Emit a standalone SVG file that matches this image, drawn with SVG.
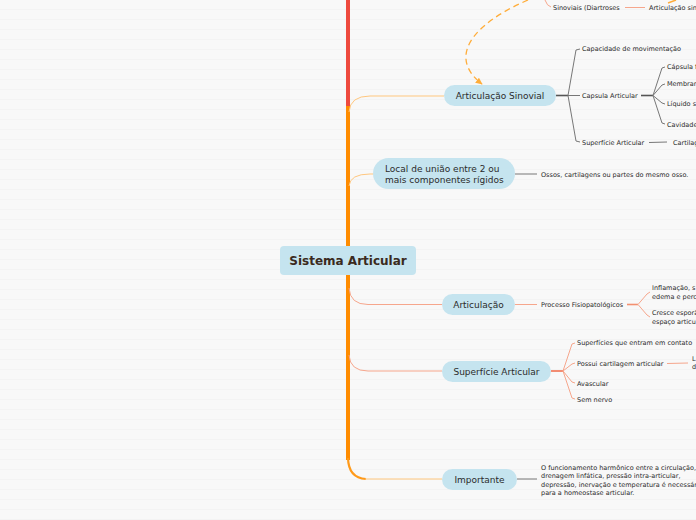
<svg xmlns="http://www.w3.org/2000/svg" width="696" height="520" viewBox="0 0 696 520">
<defs>
<pattern id="bg" width="10" height="10" patternUnits="userSpaceOnUse">
<rect width="10" height="10" fill="#f8f8f8"/>
<rect y="9" width="10" height="1" fill="#f3f3f3"/>
</pattern>
<marker id="arr" viewBox="0 0 10 10" refX="8" refY="5" markerWidth="6" markerHeight="6" orient="auto">
<path d="M0,1 L9,5 L0,9 Z" fill="#ffad3a"/>
</marker>
<style>
.node{fill:#c5e4ef}
.nt{font-family:"DejaVu Sans",Verdana,sans-serif;font-size:9px;fill:#2b2b2b;text-anchor:middle;dominant-baseline:central}
.st{font-family:"DejaVu Sans",Verdana,sans-serif;font-size:6.5px;fill:#2b2b2b;dominant-baseline:central}
.gray{stroke:#777;fill:none;stroke-width:1}
.salmon{stroke:#f6a68c;fill:none;stroke-width:1}
.lor{stroke:#ffc77f;fill:none;stroke-width:1}
</style>
</defs>
<rect width="696" height="520" fill="url(#bg)"/>

<g id="connectors">
<!-- trunk -->
<line x1="348" y1="0" x2="348" y2="110" stroke="#ee4a3e" stroke-width="4"/>
<path d="M348 106 L348 460" stroke="#ff8c00" stroke-width="4" fill="none"/>
<path d="M348 458 Q348.5 478 366 479" stroke="#ff9a1a" stroke-width="2.2" fill="none"/>
<!-- main branches -->
<path class="lor" d="M349 112 Q350 96 370 96 L444 96"/>
<path class="lor" d="M349 186 Q350 174 370 174 L374 174"/>
<path class="salmon" d="M349 288 Q350 304.5 368 304.5 L442 304.5" stroke="#f39070"/>
<path class="salmon" d="M349 355 Q350 371 368 371 L442 371" stroke="#f39070"/>
<path class="lor" d="M365 479 L442 479"/>
<!-- dashed relation -->
<path d="M528 0 C470 25 448 58 482 84" fill="none" stroke="#ffad3a" stroke-width="1.3" stroke-dasharray="6 4" marker-end="url(#arr)"/>
<path d="M668 3 L676 0" stroke="#ffad3a" stroke-width="1.5"/>
<!-- top pink -->
<path class="salmon" d="M545 0 Q547 6 551 7"/>
<line class="salmon" x1="625" y1="7.5" x2="645" y2="7.5"/>
<!-- Articulação Sinovial subtree -->
<line x1="556" y1="95.5" x2="568" y2="95.5" stroke="#555" stroke-width="1.6"/>
<path class="gray" d="M568 95.5 L576 50 L580 49"/>
<line class="gray" x1="568" y1="95.5" x2="580" y2="95.5"/>
<path class="gray" d="M568 95.5 L576 141 L580 142"/>
<line x1="641" y1="95.5" x2="653" y2="95.5" stroke="#555" stroke-width="1.6"/>
<path class="gray" d="M653 95.5 L662 68 L665 67"/>
<path class="gray" d="M653 95.5 L662 85 L665 84"/>
<path class="gray" d="M653 95.5 L662 103 L665 104"/>
<path class="gray" d="M653 95.5 L662 123 L665 124"/>
<line class="gray" x1="649" y1="142.5" x2="667" y2="142"/>
<!-- Local subtree -->
<line class="gray" x1="515" y1="174" x2="537" y2="174"/>
<!-- Articulação subtree -->
<line class="salmon" x1="515" y1="304.5" x2="537" y2="304.5"/>
<line x1="627" y1="304.5" x2="638" y2="304.5" stroke="#f39070" stroke-width="1.6"/>
<path class="salmon" d="M638 304.5 L647 294 L650 292"/>
<path class="salmon" d="M638 304.5 L647 315 L650 317"/>
<!-- Superfície subtree -->
<line x1="551" y1="371" x2="563" y2="371" stroke="#f07050" stroke-width="1.6"/>
<path class="salmon" d="M563 371 L572 344 L575 343"/>
<path class="salmon" d="M563 371 L572 364 L575 363"/>
<path class="salmon" d="M563 371 L572 382 L575 383"/>
<path class="salmon" d="M563 371 L572 398 L575 399"/>
<line class="salmon" x1="667" y1="363.5" x2="688" y2="363"/>
<!-- Importante subtree -->
<line class="gray" x1="517" y1="479" x2="537" y2="479"/>
</g>

<g id="n-central">
<rect class="node" x="280" y="246" width="136" height="29" rx="4"/>
<text x="348" y="261" class="nt" style="font-size:12px;font-weight:bold;fill:#3a2a20">Sistema Articular</text>
</g>
<g id="n-sinovial">
<rect class="node" x="444" y="85" width="112" height="21" rx="10.5"/>
<text x="500" y="96" class="nt">Articulação Sinovial</text>
</g>
<g id="n-local">
<rect class="node" x="373" y="158" width="142" height="31" rx="15.5"/>
<text x="385" y="169" class="nt" style="text-anchor:start">Local de união entre 2 ou</text>
<text x="385" y="180" class="nt" style="text-anchor:start">mais componentes rígidos</text>
</g>
<g id="n-articulacao">
<rect class="node" x="442" y="294" width="73" height="21" rx="10.5"/>
<text x="478.5" y="305" class="nt">Articulação</text>
</g>
<g id="n-superficie">
<rect class="node" x="442" y="361" width="109" height="21" rx="10.5"/>
<text x="496.5" y="372" class="nt">Superfície Articular</text>
</g>
<g id="n-importante">
<rect class="node" x="442" y="469" width="75" height="21" rx="10.5"/>
<text x="479.5" y="480" class="nt">Importante</text>
</g>

<g id="n-sub-top">
<text x="553" y="8" class="st">Sinoviais (Diartroses</text>
<text x="649" y="8" class="st">Articulação sin</text>
</g>
<g id="n-sub-sinovial">
<text x="582" y="49" class="st">Capacidade de movimentação</text>
<text x="582" y="96" class="st">Capsula Articular</text>
<text x="582" y="142.5" class="st">Superfície Articular</text>
<text x="667" y="67" class="st">Cápsula f</text>
<text x="667" y="84" class="st">Membran</text>
<text x="667" y="104" class="st">Líquido s</text>
<text x="667" y="124.5" class="st">Cavidade</text>
<text x="673" y="142.5" class="st">Cartilag</text>
</g>
<g id="n-sub-local">
<text x="541" y="174.5" class="st">Ossos, cartilagens ou partes do mesmo osso.</text>
</g>
<g id="n-sub-articulacao">
<text x="541" y="304.5" class="st">Processo Fisiopatológicos</text>
<text x="652" y="288" class="st">Inflamação, s</text>
<text x="652" y="297" class="st">edema e perc</text>
<text x="652" y="313" class="st">Cresce esporã</text>
<text x="652" y="322" class="st">espaço articu</text>
</g>
<g id="n-sub-superficie">
<text x="577" y="342.5" class="st">Superfícies que entram em contato</text>
<text x="577" y="363.5" class="st">Possui cartilagem articular</text>
<text x="692" y="358.5" class="st">L</text>
<text x="692" y="367" class="st">d</text>
<text x="577" y="383.5" class="st">Avascular</text>
<text x="577" y="399.5" class="st">Sem nervo</text>
</g>
<g id="n-sub-importante">
<text x="541" y="467.5" class="st">O funcionamento harmônico entre a circulação,</text>
<text x="541" y="476" class="st">drenagem linfática, pressão intra-articular,</text>
<text x="541" y="484.5" class="st">depressão, inervação e temperatura é necessár</text>
<text x="541" y="493" class="st">para a homeostase articular.</text>
</g>
</svg>
